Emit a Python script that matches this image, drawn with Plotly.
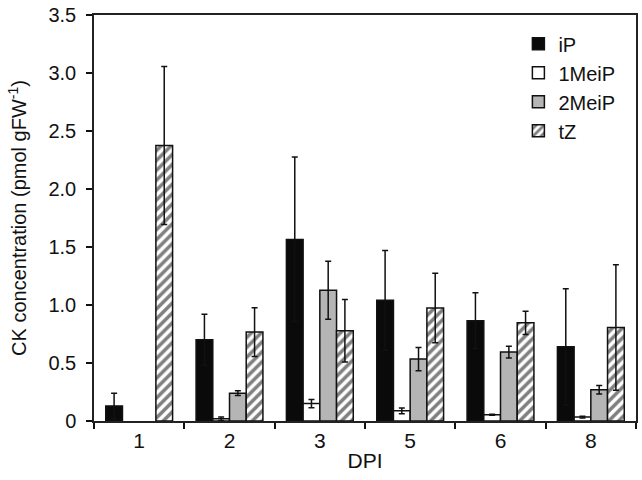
import plotly.graph_objects as go

categories = ["1", "2", "3", "5", "6", "8"]
series_names = ["iP", "1MeiP", "2MeiP", "tZ"]
iP = [0.13, 0.70, 1.565, 1.04, 0.865, 0.64]
iP_err = [0.11, 0.22, 0.71, 0.43, 0.24, 0.50]
MeiP1 = [None, 0.02, 0.15, 0.088, 0.054, 0.034]
MeiP1_err = [None, 0.015, 0.035, 0.025, 0.004, 0.008]
MeiP2 = [None, 0.24, 1.127, 0.534, 0.594, 0.27]
MeiP2_err = [None, 0.02, 0.25, 0.10, 0.05, 0.037]
tZ = [2.375, 0.767, 0.778, 0.974, 0.846, 0.806]
tZ_err = [0.68, 0.21, 0.27, 0.30, 0.10, 0.54]
ytick_vals = [0, 0.5, 1.0, 1.5, 2.0, 2.5, 3.0, 3.5]
ytick_text = ["0", "0.5", "1.0", "1.5", "2.0", "2.5", "3.0", "3.5"]

fig = go.Figure()
line = dict(color="#111111", width=1.5)
err_style = dict(type="data", color="#111111", thickness=1.5, width=3, visible=True)

fig.add_trace(go.Bar(name=series_names[0], x=categories, y=iP,
                     marker=dict(color="#0a0a0a", line=line),
                     error_y=dict(array=iP_err, **err_style)))
fig.add_trace(go.Bar(name=series_names[1], x=categories, y=MeiP1,
                     marker=dict(color="white", line=line),
                     error_y=dict(array=MeiP1_err, **err_style)))
fig.add_trace(go.Bar(name=series_names[2], x=categories, y=MeiP2,
                     marker=dict(color="#b5b5b5", line=line),
                     error_y=dict(array=MeiP2_err, **err_style)))
fig.add_trace(go.Bar(name=series_names[3], x=categories, y=tZ,
                     marker=dict(color="white", line=line,
                                 pattern=dict(shape="/", fgcolor="#000000", bgcolor="white",
                                              size=7, solidity=0.5)),
                     error_y=dict(array=tZ_err, **err_style)))

fig.update_layout(
    width=642, height=480,
    margin=dict(l=94, r=4, t=10, b=59),
    paper_bgcolor="white", plot_bgcolor="white",
    barmode="group", bargap=0.26, bargroupgap=0,
    font=dict(family="Liberation Sans, Arial, sans-serif", color="#111111", size=18),
    legend=dict(x=0.783, y=0.977, xanchor="left", yanchor="top",
                font=dict(size=20), bgcolor="rgba(0,0,0,0)", tracegroupgap=0),
    showlegend=True,
)
fig.update_xaxes(type="category", tickson="boundaries", ticks="outside", ticklen=6,
                 tickwidth=1.5, tickcolor="#111111", showline=True, linewidth=1.5,
                 linecolor="#222222", mirror=True, showgrid=False,
                 tickfont=dict(size=21), title=dict(text="DPI", font=dict(size=21), standoff=2))
fig.update_yaxes(range=[0, 3.5], tickvals=ytick_vals, ticktext=ytick_text, ticks="outside",
                 ticklen=6, tickwidth=1.5, tickcolor="#111111", showline=True, linewidth=1.5,
                 linecolor="#222222", mirror=True, showgrid=False, zeroline=False,
                 tickfont=dict(size=20), ticklabelstandoff=6, ticklabeloverflow="allow",
                 title=dict(text="CK concentration (pmol gFW<sup>-1</sup>)", font=dict(size=20), standoff=16))

fig.write_html("out.html", config={"displayModeBar": False},
               post_script="document.body.style.margin='0';")
